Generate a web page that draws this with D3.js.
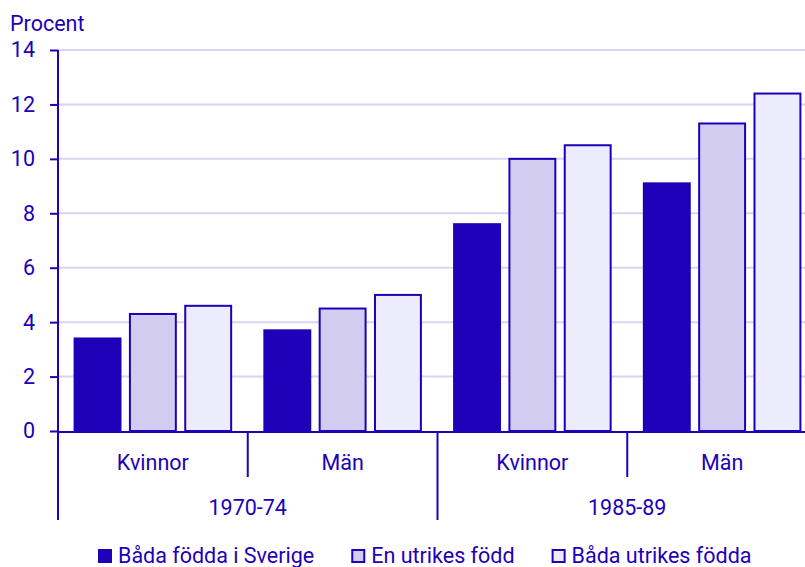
<!DOCTYPE html>
<html>
<head>
<meta charset="utf-8">
<script src="https://cdn.jsdelivr.net/npm/d3@7"></script>
<style>
  html, body { margin: 0; padding: 0; background: #fff; }
  svg { display: block; font-family: Roboto, "Noto Sans", sans-serif; }
</style>
</head>
<body>
<svg id="chart" width="805" height="567"></svg>
<script>
// Period and sex for each group of bars
const periods = ["1970-74", "1985-89"];
const sexes = ["Kvinnor", "Män"];
const groups = [
  { period: "1970-74", sex: "Kvinnor" },
  { period: "1970-74", sex: "Män" },
  { period: "1985-89", sex: "Kvinnor" },
  { period: "1985-89", sex: "Män" }
];

// Series (parents' country of birth), values in percent per group
const seriesNames = ["Båda födda i Sverige", "En utrikes född", "Båda utrikes födda"];
const badaSverige = [3.4, 3.7, 7.6, 9.1];
const enUtrikes = [4.3, 4.5, 10.0, 11.3];
const badaUtrikes = [4.6, 5.0, 10.5, 12.4];
const seriesValues = [badaSverige, enUtrikes, badaUtrikes];

const yTicks = [0, 2, 4, 6, 8, 10, 12, 14];
const yLabel = "Procent";

const ink = "#1e00b9";
const fills = ["#1e00b9", "#d2cdf0", "#ececfd"];
const gridColor = "#d8d5f2";
const fontSize = "21.5px";

const svg = d3.select("#chart");
const W = 805;
const plotLeft = 58, plotRight = 817, plotTop = 50, plotBase = 431;

const y = d3.scaleLinear().domain([0, 14]).range([plotBase, plotTop]);
const groupKeys = groups.map(g => g.period + "|" + g.sex);
const x0 = d3.scaleBand().domain(groupKeys).range([plotLeft, plotRight]).padding(0);
const x1 = d3.scaleBand().domain(seriesNames).range([0, x0.bandwidth()])
  .paddingInner(0.17).paddingOuter(0.3);

// Gridlines
svg.append("g")
  .selectAll("line")
  .data(yTicks.filter(t => t > 0))
  .join("line")
  .attr("x1", plotLeft).attr("x2", W)
  .attr("y1", d => y(d)).attr("y2", d => y(d))
  .attr("stroke", gridColor).attr("stroke-width", 2);

// Bars
const barData = [];
groups.forEach((g, gi) => {
  seriesNames.forEach((s, si) => {
    barData.push({ key: groupKeys[gi], series: s, si, value: seriesValues[si][gi] });
  });
});
svg.append("g")
  .selectAll("rect")
  .data(barData)
  .join("rect")
  .attr("x", d => x0(d.key) + x1(d.series))
  .attr("width", x1.bandwidth())
  .attr("y", d => y(d.value))
  .attr("height", d => y(0) - y(d.value))
  .attr("fill", d => fills[d.si])
  .attr("stroke", ink)
  .attr("stroke-width", 2);

// Y axis
const yAxis = d3.axisLeft(y).tickValues(yTicks).tickSize(8).tickPadding(15).tickFormat(d3.format("d"));
const yG = svg.append("g").attr("transform", `translate(${plotLeft},0)`).call(yAxis);
yG.select(".domain").remove();
yG.selectAll(".tick line").attr("stroke", ink).attr("stroke-width", 2);
yG.selectAll(".tick text").attr("fill", ink).style("font-size", fontSize)
  .style("font-family", "Roboto, sans-serif");
svg.append("line")
  .attr("x1", plotLeft).attr("x2", plotLeft).attr("y1", plotTop).attr("y2", 520)
  .attr("stroke", ink).attr("stroke-width", 2);

svg.append("text")
  .attr("x", 10).attr("y", 31)
  .attr("fill", ink).style("font-size", fontSize)
  .text(yLabel);

// X axis baseline
svg.append("line")
  .attr("x1", plotLeft).attr("x2", W).attr("y1", plotBase + 1).attr("y2", plotBase + 1)
  .attr("stroke", ink).attr("stroke-width", 2);

// Sex labels and separators within each period
svg.append("g")
  .selectAll("text")
  .data(groups)
  .join("text")
  .attr("x", (d, i) => x0(groupKeys[i]) + x0.bandwidth() / 2)
  .attr("y", 470)
  .attr("text-anchor", "middle")
  .attr("fill", ink).style("font-size", fontSize)
  .text(d => d.sex);

svg.append("g")
  .selectAll("line")
  .data(periods)
  .join("line")
  .attr("x1", p => x0(p + "|" + sexes[1]))
  .attr("x2", p => x0(p + "|" + sexes[1]))
  .attr("y1", plotBase).attr("y2", 477)
  .attr("stroke", ink).attr("stroke-width", 2);

// Period labels and separators
svg.append("g")
  .selectAll("text")
  .data(periods)
  .join("text")
  .attr("x", p => x0(p + "|" + sexes[1]))
  .attr("y", 515)
  .attr("text-anchor", "middle")
  .attr("fill", ink).style("font-size", fontSize)
  .text(p => p);

svg.append("line")
  .attr("x1", x0(periods[1] + "|" + sexes[0]))
  .attr("x2", x0(periods[1] + "|" + sexes[0]))
  .attr("y1", plotBase).attr("y2", 520)
  .attr("stroke", ink).attr("stroke-width", 2);

// Legend
const legend = svg.append("g");
let lx = 98;
seriesNames.forEach((name, i) => {
  legend.append("rect")
    .attr("x", lx + 1).attr("y", 550)
    .attr("width", 12).attr("height", 12)
    .attr("fill", fills[i]).attr("stroke", ink).attr("stroke-width", 2);
  const t = legend.append("text")
    .attr("x", lx + 20).attr("y", 563)
    .attr("fill", ink).style("font-size", fontSize)
    .text(name);
  lx += 20 + t.node().getComputedTextLength() + 37;
});
</script>
</body>
</html>
